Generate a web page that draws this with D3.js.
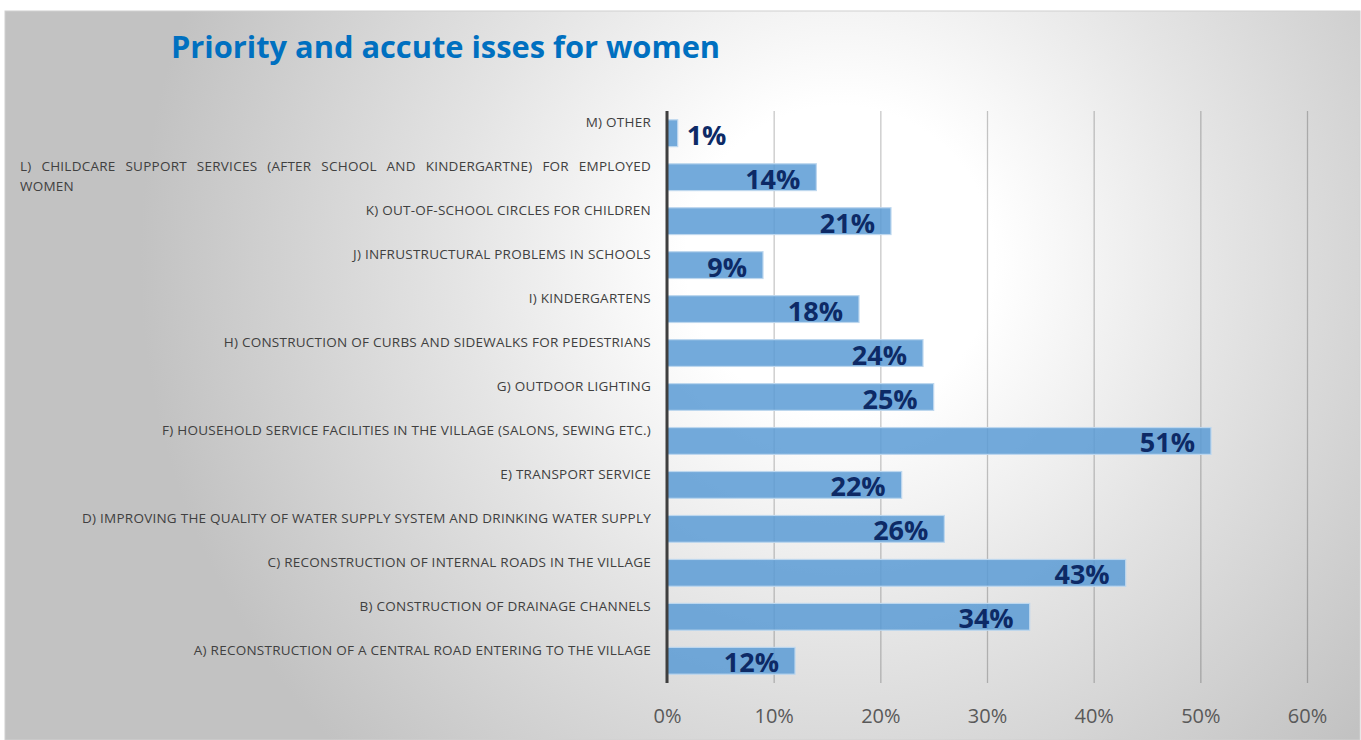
<!DOCTYPE html>
<html>
<head>
<meta charset="utf-8">
<script src="https://cdn.jsdelivr.net/npm/d3@7"></script>
<style>
  html, body { margin: 0; padding: 0; background: #ffffff; }
  svg { display: block; }
</style>
</head>
<body>
<svg id="chart" width="1361" height="740"></svg>
<script>
// Survey answers, listed top to bottom as they appear on the chart
const categories = [
  "M) OTHER",
  "L) CHILDCARE SUPPORT SERVICES (AFTER SCHOOL AND KINDERGARTNE) FOR EMPLOYED WOMEN",
  "K) OUT-OF-SCHOOL CIRCLES FOR CHILDREN",
  "J) INFRUSTRUCTURAL PROBLEMS IN SCHOOLS",
  "I) KINDERGARTENS",
  "H) CONSTRUCTION OF CURBS AND SIDEWALKS FOR PEDESTRIANS",
  "G) OUTDOOR LIGHTING",
  "F) HOUSEHOLD SERVICE FACILITIES IN THE VILLAGE (SALONS, SEWING ETC.)",
  "E) TRANSPORT SERVICE",
  "D) IMPROVING THE QUALITY OF WATER SUPPLY SYSTEM AND DRINKING WATER SUPPLY",
  "C) RECONSTRUCTION OF INTERNAL ROADS IN THE VILLAGE",
  "B) CONSTRUCTION OF DRAINAGE CHANNELS",
  "A) RECONSTRUCTION OF A CENTRAL ROAD ENTERING TO THE VILLAGE"
];
// Share of respondents, in percent
const shares = [1, 14, 21, 9, 18, 24, 25, 51, 22, 26, 43, 34, 12];
const tickValues = [0, 10, 20, 30, 40, 50, 60];
const titleText = "Priority and accute isses for women";

const W = 1361, H = 740;
const plot = { left: 667, right: 1307, top: 111, bottom: 683 };
const labelLeft = 20, labelRight = 651;

const svg = d3.select("#chart");
const defs = svg.append("defs");

// Soft radial backdrop of the slide panel
const grad = defs.append("radialGradient")
  .attr("id", "bg")
  .attr("gradientUnits", "userSpaceOnUse")
  .attr("cx", 840).attr("cy", 260).attr("r", 700)
  .attr("fx", 840).attr("fy", 260);
grad.append("stop").attr("offset", 0).attr("stop-color", "#ffffff");
grad.append("stop").attr("offset", 0.22).attr("stop-color", "#ffffff");
grad.append("stop").attr("offset", 0.55).attr("stop-color", "#e4e4e4");
grad.append("stop").attr("offset", 1).attr("stop-color", "#c2c2c2");

svg.append("rect").attr("x", 0).attr("y", 0).attr("width", W).attr("height", H).attr("fill", "#ffffff");
svg.append("rect")
  .attr("x", 5).attr("y", 11).attr("width", W - 6).attr("height", H - 11)
  .attr("fill", "url(#bg)")
  .attr("stroke", "#d0d0d0").attr("stroke-width", 1);

// Title
svg.append("text")
  .attr("x", 171).attr("y", 58)
  .attr("font-family", "'Open Sans', sans-serif")
  .attr("font-weight", 700)
  .attr("font-size", 30.8)
  .attr("fill", "#0070c0")
  .text(titleText);

// Scales
const x = d3.scaleLinear().domain([0, 60]).range([plot.left, plot.right]);
const y = d3.scaleBand().domain(categories).range([plot.top, plot.bottom]).paddingInner(0.39).paddingOuter(0.2);

// Vertical gridlines via the axis
const grid = svg.append("g")
  .attr("transform", `translate(0,${plot.bottom})`)
  .call(d3.axisBottom(x).tickValues(tickValues).tickSize(-(plot.bottom - plot.top)).tickFormat(""));
grid.select(".domain").remove();
grid.selectAll(".tick line")
  .attr("stroke", "#000000").attr("stroke-opacity", 0.22).attr("stroke-width", 1.3);

// Tick labels
const axis = svg.append("g")
  .attr("transform", `translate(0,${plot.bottom})`)
  .call(d3.axisBottom(x).tickValues(tickValues).tickSize(0).tickPadding(0).tickFormat(d => d + "%"));
axis.select(".domain").remove();
axis.selectAll(".tick text")
  .attr("y", 40)
  .attr("dy", 0)
  .attr("font-family", "'Open Sans', sans-serif")
  .attr("font-size", 20)
  .attr("fill", "#595959");

// Bars
svg.append("g").selectAll("rect")
  .data(categories)
  .join("rect")
  .attr("x", x(0))
  .attr("y", d => y(d))
  .attr("width", (d, i) => x(shares[i]) - x(0))
  .attr("height", y.bandwidth())
  .attr("fill", "#5b9bd5").attr("fill-opacity", 0.85)
  .attr("stroke", "#bdd7ee").attr("stroke-width", 1.2);

// Category axis line
svg.append("line")
  .attr("x1", x(0)).attr("x2", x(0))
  .attr("y1", plot.top).attr("y2", plot.bottom)
  .attr("stroke", "#3f3f3f").attr("stroke-width", 3);

// Category labels; long ones wrap and are justified across the label column
const labelG = svg.append("g")
  .attr("font-family", "'Open Sans', sans-serif")
  .attr("font-size", 13.5)
  .attr("letter-spacing", 0.25)
  .attr("fill", "#404040");

function measure(str) {
  const t = labelG.append("text").text(str);
  const w = t.node().getComputedTextLength();
  t.remove();
  return w;
}
const maxW = labelRight - labelLeft;

categories.forEach((label, i) => {
  const cy = y(label) + y.bandwidth() / 2;
  const words = label.split(" ");
  const lines = [];
  let cur = [];
  words.forEach(w => {
    const trial = cur.concat([w]).join(" ");
    if (cur.length && measure(trial) > maxW) { lines.push(cur); cur = [w]; }
    else cur.push(w);
  });
  if (cur.length) lines.push(cur);

  const top = cy - 6;
  if (lines.length === 1) {
    labelG.append("text")
      .attr("x", labelRight).attr("y", top)
      .attr("text-anchor", "end")
      .text(lines[0].join(" "));
  } else {
    lines.forEach((ws, li) => {
      const ly = top + li * 19.5;
      if (li < lines.length - 1) {
        const widths = ws.map(measure);
        const total = d3.sum(widths);
        const gap = (maxW - total) / (ws.length - 1);
        let cx = labelLeft;
        ws.forEach((w, wi) => {
          labelG.append("text").attr("x", cx).attr("y", ly).text(w);
          cx += widths[wi] + gap;
        });
      } else {
        labelG.append("text").attr("x", labelLeft).attr("y", ly).text(ws.join(" "));
      }
    });
  }
});

// Value labels inside the bar ends (outside when the bar is too short)
const valG = svg.append("g")
  .attr("font-family", "'Open Sans', sans-serif")
  .attr("font-weight", 700)
  .attr("font-size", 27)
  .attr("fill", "#0d2a66");
categories.forEach((label, i) => {
  const cy = y(label) + y.bandwidth() / 2;
  const txt = shares[i] + "%";
  const t = valG.append("text").attr("y", cy + 11.5).text(txt);
  const w = t.node().getComputedTextLength();
  const barW = x(shares[i]) - x(0);
  if (w + 20 > barW) {
    t.attr("x", x(shares[i]) + 9).attr("text-anchor", "start");
  } else {
    t.attr("x", x(shares[i]) - 16).attr("text-anchor", "end");
  }
});
</script>
</body>
</html>
